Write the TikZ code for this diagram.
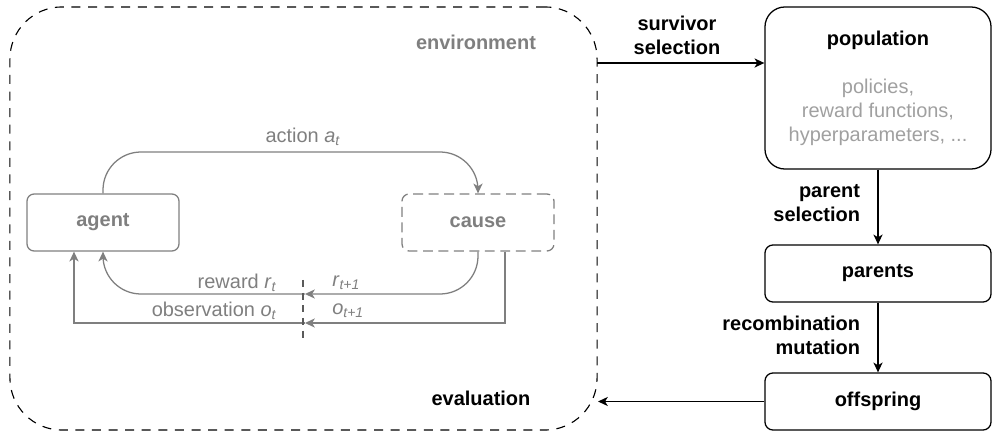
\documentclass[tikz,border=0pt]{standalone}
\usepackage{fontspec}
\setmainfont{Liberation Sans}
\usetikzlibrary{arrows.meta}
\definecolor{gray5}{HTML}{7f7f7f}
\definecolor{gray7}{HTML}{a0a0a0}
\definecolor{gray3}{HTML}{5a5a5a}
\newcommand{\lite}[1]{\textcolor{gray7}{#1}}
\newcommand{\bigfont}{\fontsize{14.2}{17.1}\selectfont}

\tikzset{
  box/.style={draw, line width=0.9pt, rounded corners=0.2cm, minimum width=5.65cm, minimum height=1.425cm, font=\bigfont\bfseries},
  gbox/.style={draw=gray5, text=gray5, line width=0.9pt, rounded corners=0.18cm, minimum width=3.8cm, minimum height=1.425cm, font=\bigfont\bfseries},
  arr/.style={line width=0.9pt, -{Stealth[length=7pt, width=6.5pt, inset=2pt]}},
  garr/.style={arr, draw=gray5},
  glabel/.style={text=gray5, inner sep=0pt},
  blabel/.style={font=\bigfont\bfseries}
}

\begin{document}
\begin{tikzpicture}[x=0.025cm, y=-0.025cm, font=\bigfont]
\useasboundingbox (0,0) rectangle (992,432);

% environment and the agent loop
\node[draw, line width=0.8pt, dash pattern=on 6.4pt off 5.4pt, rounded corners=1.3cm,
      minimum width=14.675cm, minimum height=10.575cm] (env) at (303.5,218.5) {};
\node[blabel, text=gray5] (envlabel) at (476,42) {environment};
\node[blabel] (evallabel) at (481,398) {evaluation};

\node[gbox] (agent) at (103,222.5) {agent};
\node[gbox, dash pattern=on 7pt off 4pt] (cause) at (478,222.5) {cause};

\coordinate (acttop) at (290,152);
\coordinate (rmid) at (305,294);
\coordinate (omid) at (305,323);
\draw[garr, rounded corners=0.95cm] (agent.north) |- (acttop) -| (cause.north);
\draw[garr, rounded corners=0.95cm] (cause.south) |- (rmid);
\draw[garr, rounded corners=0.95cm] (rmid) -| (agent.south);
\draw[garr] ([xshift=0.675cm]cause.south) |- (omid);
\draw[garr] (omid) -| ([xshift=-0.725cm]agent.south);
\draw[gray3, line width=1.4pt, dash pattern=on 5pt off 4pt] (303,280) -- (303,338);

\node[glabel] (actlabel) at (303,137) {action \textit{a}\textsubscript{\textit{t}}};
\node[glabel, anchor=east] (rlabel) at (277,283) {reward \textit{r}\textsubscript{\textit{t}}};
\node[glabel, anchor=west] (rnext) at (332,283) {\textit{r}\textsubscript{\textit{t+1}}};
\node[glabel, anchor=east] (olabel) at (277,311) {observation \textit{o}\textsubscript{\textit{t}}};
\node[glabel, anchor=west] (onext) at (332,311) {\textit{o}\textsubscript{\textit{t+1}}};

% evolution loop
\node[box, minimum height=4.05cm, rounded corners=0.5cm, align=center] (pop) at (878,88)
  {population\\[0.6cm]\mdseries\lite{policies,}\\\mdseries\lite{reward functions,}\\\mdseries\lite{hyperparameters, ...}};
\node[box] (parents) at (878,273.5) {parents};
\node[box] (offspring) at (878,401.5) {offspring};

\coordinate (survout) at (597,63);
\coordinate (evalin) at (598,401.5);
\draw[arr] (survout) -- (survout -| pop.west);
\draw[arr] (pop) -- (parents);
\draw[arr] (parents) -- (offspring);
\draw[arr] (offspring) -- (evalin);

\node[blabel, align=center] (survlabel) at (677,35) {survivor\\selection};
\node[blabel, align=right, anchor=east] (parlabel) at (865,203.5) {parent\\selection};
\node[blabel, align=right, anchor=east] (reclabel) at (865,335) {recombination\\mutation};
\end{tikzpicture}
\end{document}
